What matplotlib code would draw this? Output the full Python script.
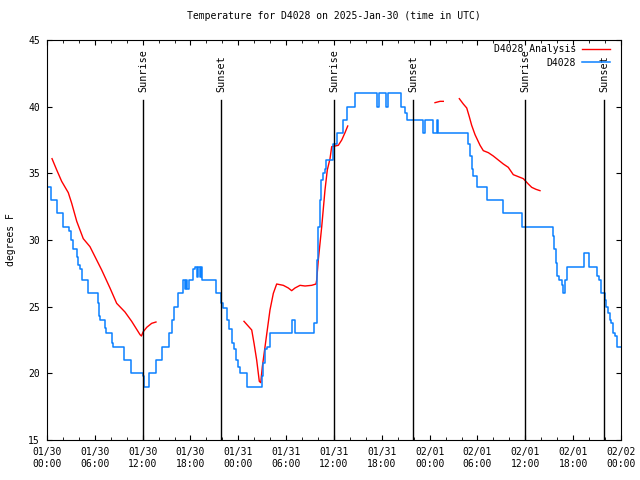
import numpy as np
import pandas as pd
import matplotlib
matplotlib.use("Agg")
import matplotlib.pyplot as plt
import matplotlib.dates as mdates

START = pd.Timestamp("2025-01-30 00:00")

# station readings (hours after start, degrees F), held until the next reading
# ten values per line so the two lists stay paired
obs_hours = [0.00, 0.46, 1.22, 1.97, 2.72, 2.97, 3.30, 3.73, 3.93, 4.14,
             4.39, 5.18, 6.43, 6.56, 6.65, 7.30, 7.42, 8.12, 8.24, 9.66,
             10.54, 12.08, 12.20, 12.76, 13.67, 14.43, 15.27, 15.68, 15.93, 16.48,
             17.10, 17.30, 17.45, 17.60, 17.75, 18.35, 18.60, 18.85, 19.00, 19.20,
             19.35, 19.40, 21.20, 21.83, 22.10, 22.54, 22.87, 23.17, 23.46, 23.71,
             24.00, 24.21, 25.08, 26.93, 27.13, 27.34, 27.55, 27.97, 30.69, 31.10,
             33.53, 33.83, 33.90, 34.03, 34.24, 34.32, 34.57, 34.86, 34.99, 35.85,
             36.34, 37.09, 37.60, 38.63, 41.43, 41.60, 42.55, 42.75, 44.37, 44.90,
             45.19, 47.20, 47.45, 48.46, 48.88, 49.08, 52.85, 53.06, 53.27, 53.48,
             53.90, 55.16, 57.16, 59.58, 63.43, 63.60, 63.80, 64.00, 64.26, 64.56,
             64.76, 64.98, 65.27, 67.30, 68.03, 68.97, 69.20, 69.53, 70.00, 70.13,
             70.38, 70.60, 70.80, 71.00, 71.30, 71.54, 72.00]
obs_temp = [34, 33, 32, 31, 30.7, 30, 29.3, 28.7, 28.1, 27.8,
            27, 26, 25.3, 24.3, 24, 23.4, 23, 22.3, 22, 21,
            20, 19.8, 19, 20, 21, 22, 23, 24, 25, 26,
            27, 26.3, 27, 26.3, 27, 27.8, 28, 27.2, 28, 27.2,
            28, 27, 26, 25.3, 24.9, 24, 23.3, 22.3, 21.8, 21,
            20.5, 20, 19, 19.8, 20.8, 21.8, 22, 23, 24, 23,
            23.8, 25.5, 28.5, 31, 33, 34.5, 35, 35.3, 36, 37.2,
            38, 39, 40, 41, 40, 41, 40, 41, 40, 39.5,
            39, 38, 39, 38, 39, 38, 37.2, 36.3, 35.3, 34.8,
            34, 33, 32, 31, 30.3, 29.3, 28.3, 27.3, 27, 26.6,
            26, 27, 28, 29, 28, 27.3, 27, 26, 25.5, 25,
            24.5, 24, 23.8, 23, 22.8, 22, 22]

# analysis segments (hours, degrees F), gaps between them
ana_hours = [
    [0.63, 1.22, 1.84, 2.67, 3.10, 3.73, 4.55, 5.39, 6.02, 6.86,
     7.90, 8.74, 9.78, 10.62, 11.67, 11.85, 12.05, 12.51, 13.13, 13.67],
    [24.71, 25.68, 25.97, 26.30, 26.63, 26.81, 27.01, 27.35, 27.63, 27.97,
     28.39, 28.81, 29.64, 30.27, 30.69, 31.11, 31.74, 32.37, 33.20, 33.74,
     33.83, 34.03, 34.16, 34.46, 34.87, 35.16, 35.50, 35.71, 36.13, 36.54,
     36.97, 37.38, 37.72],
    [48.67, 49.30, 49.71],
    [51.72, 52.22, 52.65, 52.97, 53.27, 53.69, 54.32, 54.73, 55.36, 55.98,
     56.61, 57.24, 57.86, 58.49, 59.12, 59.75, 60.37, 60.80, 61.34, 61.84],
]
ana_temp = [
    [36.1, 35.25, 34.4, 33.55, 32.75, 31.4, 30.1, 29.5, 28.75, 27.75,
     26.4, 25.25, 24.6, 23.9, 22.9, 22.8, 23.1, 23.45, 23.75, 23.85],
    [23.9, 23.25, 22.25, 21, 19.4, 19.3, 20.5, 22, 23.25, 24.75,
     26, 26.7, 26.6, 26.4, 26.2, 26.4, 26.6, 26.55, 26.6, 26.7,
     27, 28.5, 29.25, 31, 33.75, 35.25, 36.1, 37, 37.05, 37.1,
     37.5, 38.05, 38.55],
    [40.3, 40.4, 40.4],
    [40.6, 40.2, 39.9, 39.25, 38.6, 37.9, 37.1, 36.7, 36.55, 36.3,
     36, 35.7, 35.45, 34.9, 34.75, 34.6, 34.2, 33.95, 33.8, 33.7],
]

sun_hours = [12.04, 21.83, 36.0, 45.9, 59.96, 69.87]
sun_labels = ["Sunrise", "Sunset", "Sunrise", "Sunset", "Sunrise", "Sunset"]


def to_time(hours):
    return START + pd.to_timedelta(np.array(hours), unit="h")


plt.rcParams["font.family"] = "DejaVu Sans Mono"
plt.rcParams["font.size"] = 7

fig = plt.figure(figsize=(6.4, 4.8), dpi=100)
ax = fig.add_axes([47 / 640, 40 / 480, 574 / 640, 400 / 480])

for i, (h, t) in enumerate(zip(ana_hours, ana_temp)):
    ax.plot(to_time(h), t, color="#ff0000", lw=1,
            label="D4028 Analysis" if i == 0 else None)
ax.plot(to_time(obs_hours), obs_temp, color="#0a80ff", lw=1.1,
        drawstyle="steps-post", label="D4028")

for h, lab in zip(sun_hours, sun_labels):
    t = to_time([h])[0]
    ax.plot([t, t], [15, 40.5], color="black", lw=1)
    ax.text(t, 41.1, lab, rotation=90, ha="center", va="bottom", fontsize=7.3)

ax.set_xlim(START, START + pd.Timedelta(hours=72))
ax.set_ylim(15, 45)
ax.set_yticks(range(15, 46, 5))
ax.xaxis.set_major_locator(mdates.HourLocator(byhour=[0, 6, 12, 18]))
ax.xaxis.set_minor_locator(mdates.HourLocator(byhour=range(0, 24, 2)))
ax.xaxis.set_major_formatter(mdates.DateFormatter("%m/%d\n%H:%M"))
ax.tick_params(which="both", direction="in", top=True, right=True)
ax.tick_params(which="major", length=3.6, pad=5)
ax.tick_params(which="minor", length=2.2)
ax.tick_params(axis="y", which="minor", length=0)

ax.set_title("Temperature for D4028 on 2025-Jan-30 (time in UTC)", fontsize=7, pad=15)
ax.set_ylabel("degrees F", labelpad=9)

ax.legend(loc="upper right", bbox_to_anchor=(0.981, 0.99), frameon=False,
          markerfirst=False, handlelength=2.9, handletextpad=0.6,
          labelspacing=0.4, borderaxespad=0, borderpad=0, fontsize=7)

fig.savefig("out.png", dpi=100)
